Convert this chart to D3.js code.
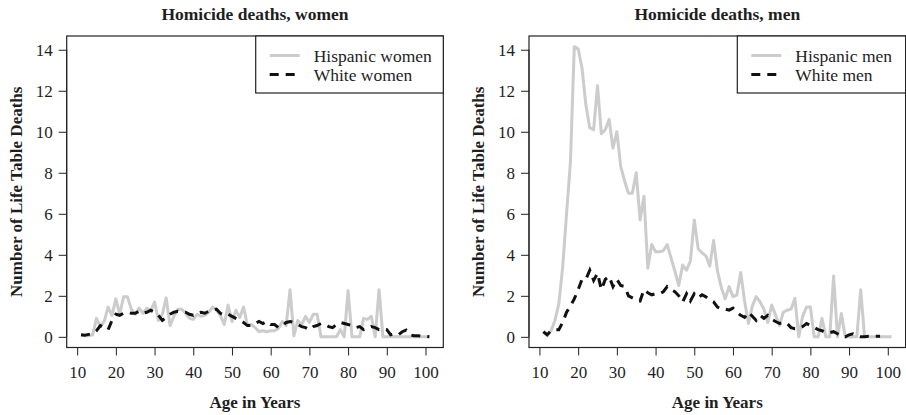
<!DOCTYPE html>
<html>
<head>
<meta charset="utf-8">
<script src="https://cdn.jsdelivr.net/npm/d3@7"></script>
<style>
  html, body { margin: 0; padding: 0; background: #fff; }
  svg { display: block; font-family: "Liberation Serif", "Times New Roman", serif; }
</style>
</head>
<body>
<svg id="chart" width="906" height="415"></svg>
<script>
// ---------- data ----------
const ages = [11,12,13,14,15,16,17,18,19,20,21,22,23,24,25,26,27,28,29,30,
  31,32,33,34,35,36,37,38,39,40,41,42,43,44,45,46,47,48,49,50,
  51,52,53,54,55,56,57,58,59,60,61,62,63,64,65,66,67,68,69,70,
  71,72,73,74,75,76,77,78,79,80,81,82,83,84,85,86,87,88,89,90,
  91,92,93,94,95,96,97,98,99,100,101];

const hispanicWomen = [0.08,0.05,0.05,0.1,0.9,0.5,0.75,1.45,1.05,1.85,
  1.1,1.95,1.95,1.35,1.1,1.4,1.15,1.4,1.25,1.7,
  0.8,1.1,1.9,0.55,1.0,1.35,1.35,1.15,0.9,0.85,
  1.1,1.0,1.05,1.2,1.45,1.3,1.05,0.6,1.55,0.75,
  1.3,0.95,1.45,0.55,0.6,0.45,0.25,0.3,0.25,0.3,
  0.3,0.4,0.75,0.55,2.3,0.05,0.8,0.6,1.0,0.7,
  1.1,1.1,0,0,0,0,0,0.35,0,2.25,
  0,0,0,0.9,0.85,1.0,0,2.3,0,0,
  0,0,0,0,0,0,0,0,0,0,0];

const whiteWomen = [0.1,0.08,0.12,0.15,0.3,0.55,0.45,0.35,0.8,1.1,
  1.05,1.15,1.2,1.15,1.15,1.25,1.15,1.2,1.3,1.2,
  1.05,0.8,0.95,1.1,1.2,1.25,1.2,1.2,1.1,1.05,
  1.15,1.2,1.15,1.25,1.3,1.35,1.15,1.05,1.1,1.0,
  0.9,0.8,0.7,0.55,0.55,0.65,0.75,0.65,0.75,0.6,
  0.6,0.45,0.55,0.7,0.75,0.7,0.6,0.5,0.45,0.35,
  0.5,0.55,0.65,0.6,0.5,0.45,0.6,0.7,0.65,0.6,
  0.55,0.45,0.5,0.35,0.4,0.5,0.45,0.35,0.4,0.35,
  0.1,0.15,0.1,0.25,0.33,0.1,0.05,0.05,0.03,0.02,0];

const hispanicMen = [0.25,0.05,0.3,0.8,1.6,3.4,6.0,8.5,14.15,14.05,
  13.1,11.3,10.2,10.1,12.25,9.9,10.1,10.6,9.2,10.0,
  8.3,7.6,7.0,7.0,8.0,5.7,6.85,3.35,4.5,4.15,
  4.15,4.2,4.5,3.85,3.2,2.5,3.5,3.25,3.7,5.7,
  4.3,4.1,3.95,3.45,4.7,3.2,2.4,1.85,2.45,1.96,
  2.04,3.14,1.75,0.65,1.5,1.96,1.7,1.35,0.7,1.55,
  1.06,0.55,1.2,1.3,1.35,1.88,0,1.0,1.45,1.45,
  0,0,0.9,0,0,2.97,0,1.14,0,0,
  0,0,2.29,0,0,0,0,0,0,0,0];

const whiteMen = [0.25,0.1,0.3,0.35,0.35,0.7,1.2,1.5,1.85,2.3,
  2.8,2.8,3.25,2.75,3.1,2.3,2.8,2.95,2.45,2.8,
  2.5,2.45,2.0,1.9,1.8,1.75,2.3,2.15,2.05,2.1,
  2.1,2.2,2.45,2.3,2.2,2.0,1.7,2.1,1.75,2.1,
  1.9,2.05,1.95,1.8,1.7,1.45,1.35,1.35,1.3,1.4,
  1.2,1.05,0.95,1.2,1.0,0.8,1.05,0.9,1.05,0.85,
  0.75,0.65,0.7,0.65,0.45,0.4,0.4,0.5,0.65,0.55,
  0.45,0.35,0.3,0.2,0.2,0.25,0.15,0.05,0,0.1,
  0.15,0.05,0,0,0.03,0.03,0.03,0.03,null,null,null];

const xTicks = [10,20,30,40,50,60,70,80,90,100];
const yTicks = [0,2,4,6,8,10,12,14];

const panels = [
  {title: "Homicide deaths, women", hisp: hispanicWomen, white: whiteWomen,
   labels: ["Hispanic women", "White women"]},
  {title: "Homicide deaths, men", hisp: hispanicMen, white: whiteMen,
   labels: ["Hispanic men", "White men"]}
];

// ---------- layout ----------
const svg = d3.select("#chart");
const boxTop = 36, boxH = 311.5, boxW = 376.6;
const panelLeft = [66.7, 529];
const grayCol = "#cccccc", darkCol = "#111111", inkCol = "#1e1e1e";
const fs = 17, fsTitle = 17.5, fsLeg = 17.5;

panels.forEach((p, i) => {
  const L = panelLeft[i];
  const x = d3.scaleLinear().domain([7.3, 104.6]).range([L, L + boxW]);
  const y = d3.scaleLinear().domain([-0.52, 14.67]).range([boxTop + boxH, boxTop]);
  const g = svg.append("g");

  // title
  g.append("text").attr("x", L + boxW / 2).attr("y", 20)
    .attr("text-anchor", "middle").attr("font-weight", "bold")
    .attr("font-size", fsTitle).attr("fill", inkCol).text(p.title);

  // lines
  const hispData = ages.map((a, k) => ({a, v: p.hisp[k]}));
  const whiteData = ages.map((a, k) => ({a, v: p.white[k]}));
  const line = d3.line().defined(d => d.v != null).x(d => x(d.a)).y(d => y(d.v));

  g.append("path").datum(hispData).attr("d", line)
    .attr("fill", "none").attr("stroke", grayCol).attr("stroke-width", 3)
    .attr("stroke-linejoin", "round");
  g.append("path").datum(whiteData).attr("d", line)
    .attr("fill", "none").attr("stroke", darkCol).attr("stroke-width", 3)
    .attr("stroke-dasharray", "9,7");

  // box
  g.append("rect").attr("x", L).attr("y", boxTop).attr("width", boxW).attr("height", boxH)
    .attr("fill", "none").attr("stroke", "#222").attr("stroke-width", 1.2);

  // x axis
  const xa = g.append("g").attr("transform", `translate(0,${boxTop + boxH})`)
    .call(d3.axisBottom(x).tickValues(xTicks).tickSize(8).tickPadding(10).tickSizeOuter(0));
  xa.select(".domain").attr("d", `M${x(10)},0H${x(100)}`).attr("stroke", "#222");
  xa.selectAll(".tick line").attr("stroke", "#222");
  xa.selectAll("text").attr("font-family", "Liberation Serif").attr("font-size", fs).attr("fill", inkCol);

  // y axis
  const ya = g.append("g").attr("transform", `translate(${L},0)`)
    .call(d3.axisLeft(y).tickValues(yTicks).tickSize(8).tickPadding(6).tickSizeOuter(0));
  ya.select(".domain").attr("d", `M0,${y(0)}V${y(14)}`).attr("stroke", "#222");
  ya.selectAll(".tick line").attr("stroke", "#222");
  ya.selectAll("text").attr("font-family", "Liberation Serif").attr("font-size", fs).attr("fill", inkCol);

  // axis titles
  g.append("text").attr("x", L + boxW / 2).attr("y", 408)
    .attr("text-anchor", "middle").attr("font-weight", "bold").attr("font-size", fs)
    .attr("fill", inkCol).text("Age in Years");
  g.append("text")
    .attr("transform", `translate(${L - 45},${boxTop + boxH / 2}) rotate(-90)`)
    .attr("text-anchor", "middle").attr("font-weight", "bold").attr("font-size", fs)
    .attr("fill", inkCol).text("Number of Life Table Deaths");

  // legend
  const legW = i === 0 ? 187.6 : 168.3;
  const lx = L + boxW - legW;
  const lg = g.append("g");
  lg.append("rect").attr("x", lx).attr("y", boxTop).attr("width", legW).attr("height", 57)
    .attr("fill", "#fff").attr("stroke", "#222").attr("stroke-width", 1.2);
  const rows = [{c: grayCol, dash: null}, {c: darkCol, dash: "9,7"}];
  rows.forEach((r, k) => {
    const ry = 55.5 + k * 19;
    lg.append("line").attr("x1", lx + 14).attr("x2", lx + 44).attr("y1", ry).attr("y2", ry)
      .attr("stroke", r.c).attr("stroke-width", 3)
      .attr("stroke-dasharray", r.dash);
    lg.append("text").attr("x", lx + 58).attr("y", ry + 6)
      .attr("font-size", fsLeg).attr("fill", inkCol).text(p.labels[k]);
  });
});
</script>
</body>
</html>
